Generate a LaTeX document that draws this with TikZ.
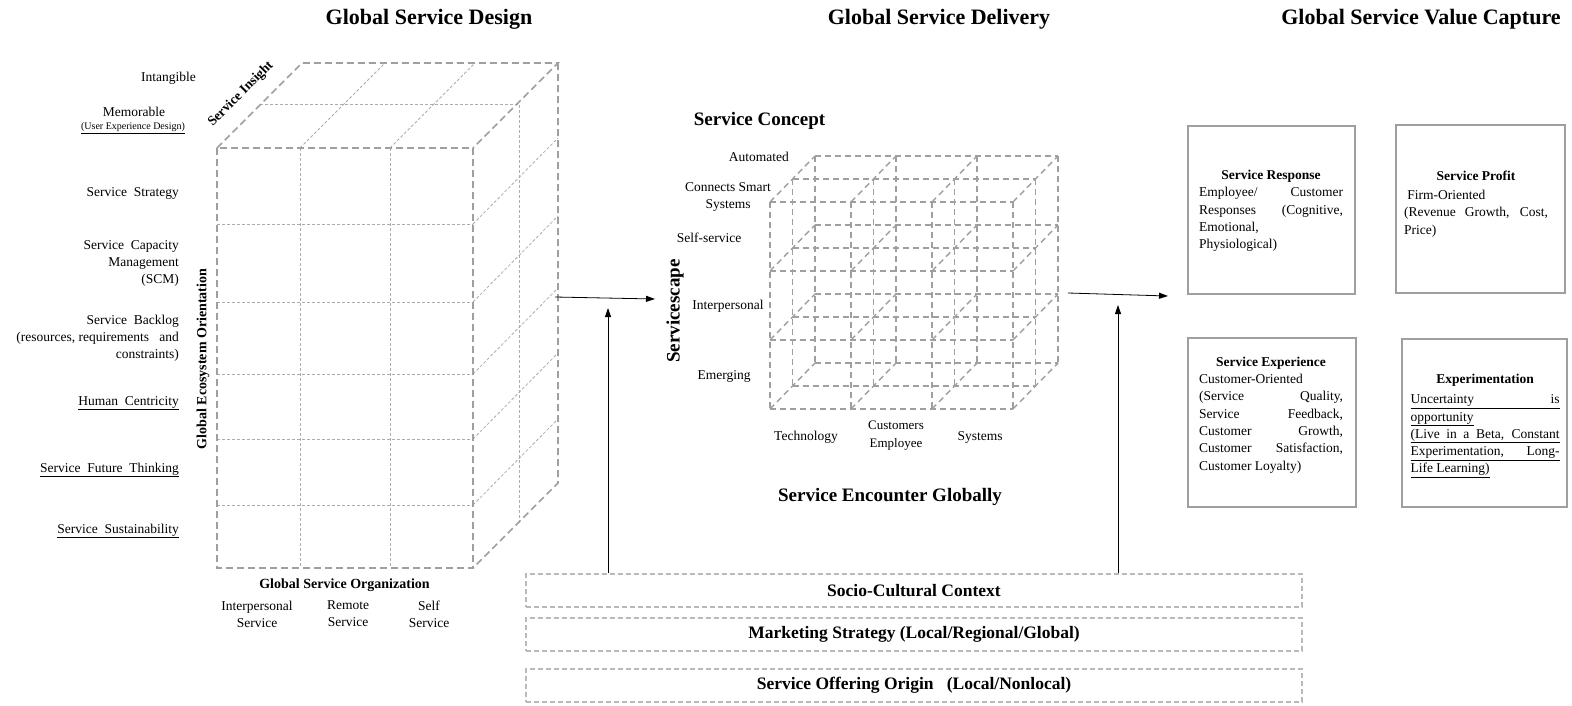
\documentclass[tikz,border=0pt]{standalone}
\usepackage{fontspec}
\setmainfont{Liberation Serif}
\usetikzlibrary{arrows.meta}
\begin{document}
\begin{tikzpicture}[x=1pt,y=-1pt,
 lbl/.style={inner sep=0pt, font=\fontsize{13.5}{17}\selectfont},
 ttl/.style={inner sep=0pt, font=\bfseries\fontsize{22}{26}\selectfont},
 sub/.style={inner sep=0pt, font=\bfseries\fontsize{19}{22}\selectfont},
 axl/.style={inner sep=0pt, font=\bfseries\fontsize{14}{17}\selectfont},
 edgeD/.style={draw=gray!75, line width=1.6pt, dash pattern=on 7pt off 4pt},
 gridD/.style={draw=gray!65, line width=0.8pt, dash pattern=on 3pt off 2pt},
 cubeD/.style={draw=gray!75, line width=1.4pt, dash pattern=on 6pt off 4pt},
 vbox/.style={draw=gray!75, line width=1.8pt, inner sep=0pt},
 band/.style={draw=gray!55, line width=1.2pt, dash pattern=on 5pt off 3pt, inner sep=0pt, minimum width=776pt, minimum height=33pt, font=\bfseries\fontsize{17.5}{20}\selectfont},
 arr/.style={line width=0.8pt, -{Triangle[length=9pt,width=6pt]}},
 boxtxt/.style={inner sep=0pt, align=center, font=\fontsize{13.5}{17.3}\selectfont}
]
\useasboundingbox (0,0) rectangle (1572,705);

% ---------- titles ----------
\node[ttl] (t1) at (429,19) {Global Service Design};
\node[ttl] (t2) at (939,19) {Global Service Delivery};
\node[ttl] (t3) at (1421,19) {Global Service Value Capture};

% ---------- left cube ----------
\foreach \xx in {300,390} \draw[gridD] (\xx,148) -- (\xx,568);
\foreach \yy in {224,302,374,439,505} {
  \draw[gridD] (217,\yy) -- (473,\yy);
  \draw[gridD] (473,\yy) -- (558,\yy-86);
}
\draw[gridD] (300,148) -- (385,63);
\draw[gridD] (390,148) -- (475,63);
\draw[gridD] (260,104) -- (519,104) -- (519,524);
\draw[edgeD] (217,148) rectangle (473,568);
\draw[edgeD] (217,148) -- (302,63) -- (558,63) -- (473,148);
\draw[edgeD] (558,63) -- (558,483) -- (473,568);

% left labels
\node[lbl, anchor=east] (l1) at (196,78) {Intangible};
\node[lbl] (l2) at (134,112) {Memorable};
\node[inner sep=0pt, font=\fontsize{10}{12}\selectfont] (l2b) at (133,128) {\underline{(User Experience Design)}};
\node[lbl, anchor=east] (l3) at (179,193) {Service\ \ Strategy};
\node[lbl, anchor=east, align=right] (l4) at (179,263) {Service\ \ Capacity\\Management\\(SCM)};
\node[lbl, anchor=east, align=right] (l5) at (179,338) {Service\ \ Backlog\\(resources, requirements\ \ \ and\\constraints)};
\node[lbl, anchor=east] (l6) at (179,403) {\underline{Human\ \ Centricity}};
\node[lbl, anchor=east] (l7) at (179,470) {\underline{Service\ \ Future\ \ Thinking}};
\node[lbl, anchor=east] (l8) at (179,531) {\underline{Service\ \ Sustainability}};

\node[axl, rotate=90] (geo) at (203,359) {Global Ecosystem Orientation};
\node[inner sep=0pt, font=\bfseries\fontsize{13.5}{16}\selectfont, rotate=45] (ins) at (241,94) {Service Insight};
\node[axl] (gso) at (344.5,585) {Global Service Organization};
\node[lbl, align=center] (c1) at (257,614) {Interpersonal\\Service};
\node[lbl, align=center] (c2) at (348,614) {Remote\\Service};
\node[lbl, align=center] (c3) at (429,614) {Self\\Service};

% ---------- middle cube ----------
\foreach \k in {0,1,2} {
  \pgfmathsetmacro\dx{22.5*\k}
  \pgfmathsetmacro\dd{23*\k}
  \foreach \xx in {770,851,932,1013} \draw[cubeD] (\xx+\dx,202-\dd) -- (\xx+\dx,409-\dd);
  \foreach \yy in {202,271,340,409} \draw[cubeD] (770+\dx,\yy-\dd) -- (1013+\dx,\yy-\dd);
}
\foreach \xx in {770,851,932,1013}
  \foreach \yy in {202,271,340,409}
    \draw[cubeD] (\xx,\yy) -- (\xx+45,\yy-46);

\node[sub] (sc) at (759.5,121) {Service Concept};
\node[lbl, anchor=east] (m1) at (789,157) {Automated};
\node[lbl, align=center] (m2) at (728,197) {Connects Smart\\Systems};
\node[lbl] (m3) at (709,238) {Self-service};
\node[lbl] (m4) at (728,306) {Interpersonal};
\node[lbl] (m5) at (724,376) {Emerging};
\node[sub, rotate=90] (scape) at (675,311) {Servicescape};
\node[lbl] (b1) at (806,437) {Technology};
\node[lbl, align=center, font=\fontsize{13}{18}\selectfont] (b2) at (896,436) {Customers\\Employee};
\node[lbl] (b3) at (980,437) {Systems};
\node[sub] (seg) at (890,497) {Service Encounter Globally};

% ---------- bottom bands ----------
\node[band] (socio) at (914,590.5) {Socio-Cultural Context};
\node[band] (mkt) at (914,634.5) {Marketing Strategy (Local/Regional/Global)};
\node[band] (orig) at (914,685.5) {Service Offering Origin\ \ \ (Local/Nonlocal)};

% ---------- arrows ----------
\coordinate (a1s) at (555,297);
\coordinate (a1e) at (655,299);
\coordinate (a2e) at (608,308);
\coordinate (a3s) at (1068,293);
\coordinate (a3e) at (1168,296);
\coordinate (a4e) at (1118,305);
\draw[arr] (a1s) -- (a1e);
\draw[arr] (socio.north -| a2e) -- (a2e);
\draw[arr] (a3s) -- (a3e);
\draw[arr] (socio.north -| a4e) -- (a4e);

% ---------- right boxes ----------
\node[vbox, minimum width=167pt, minimum height=168pt] (resp) at (1271.5,210) {};
\node[vbox, minimum width=169pt, minimum height=168pt] (prof) at (1480.5,209) {};
\node[vbox, minimum width=168pt, minimum height=169pt] (expe) at (1272,422.5) {};
\node[vbox, minimum width=165pt, minimum height=168pt] (expt) at (1484.5,423) {};

\node[boxtxt] (respT) at (1271,211) {\textbf{Service Response}\\
\makebox[144pt][s]{Employee/ Customer}\\
\makebox[144pt][s]{Responses (Cognitive,}\\
\makebox[144pt][l]{Emotional,}\\
\makebox[144pt][l]{Physiological)}};

\node[boxtxt] (profT) at (1476,204) {\textbf{Service Profit}\\[2pt]
\makebox[144pt][l]{\ Firm-Oriented}\\
\makebox[144pt][s]{(Revenue Growth, Cost,}\\
\makebox[144pt][l]{Price)}};

\node[boxtxt] (expeT) at (1271,415) {\textbf{Service Experience}\\
\makebox[144pt][l]{Customer-Oriented}\\
\makebox[144pt][s]{(Service Quality,}\\
\makebox[144pt][s]{Service Feedback,}\\
\makebox[144pt][s]{Customer Growth,}\\
\makebox[144pt][s]{Customer Satisfaction,}\\
\makebox[144pt][l]{Customer Loyalty)}};

\node[boxtxt] (exptT) at (1485,426) {\textbf{Experimentation}\\[3pt]
\underline{\makebox[149pt][s]{Uncertainty is}}\\
\makebox[149pt][l]{\underline{opportunity}}\\
\underline{\makebox[149pt][s]{(Live in a Beta, Constant}}\\
\underline{\makebox[149pt][s]{Experimentation, Long-}}\\
\makebox[149pt][l]{\underline{Life Learning)}}};

\end{tikzpicture}
\end{document}
